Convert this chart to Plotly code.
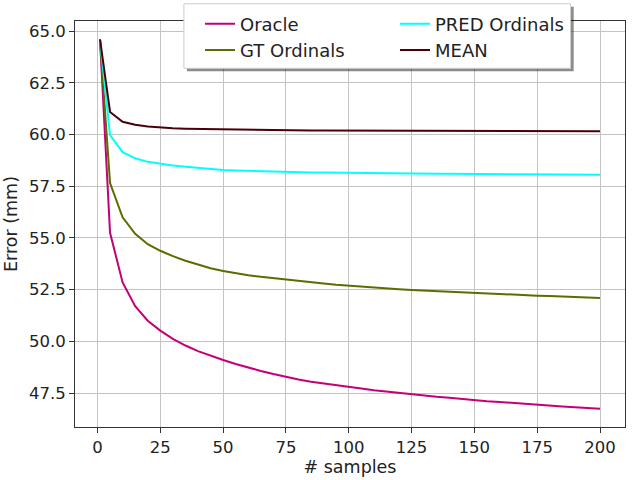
import plotly.graph_objects as go

samples = [1, 5, 10, 15, 20, 25, 30, 35, 40, 45, 50, 55, 60, 65, 70, 75, 80, 85, 90, 95, 100,
           105, 110, 115, 120, 125, 130, 135, 140, 145, 150, 155, 160, 165, 170, 175, 180, 185, 190, 195, 200]

oracle = [64.6, 55.25, 52.85, 51.7, 51.0, 50.52, 50.12, 49.8, 49.53, 49.3, 49.1, 48.91, 48.73, 48.57,
          48.42, 48.28, 48.16, 48.05, 47.96, 47.87, 47.79, 47.72, 47.64, 47.57, 47.5, 47.44, 47.38,
          47.32, 47.27, 47.21, 47.16, 47.11, 47.07, 47.02, 46.97, 46.93, 46.89, 46.85, 46.81, 46.77, 46.74]

gt_ordinals = [64.6, 57.65, 56.0, 55.2, 54.7, 54.38, 54.12, 53.9, 53.72, 53.54, 53.4, 53.29, 53.2,
               53.12, 53.05, 52.98, 52.92, 52.86, 52.8, 52.74, 52.69, 52.65, 52.6, 52.56, 52.52, 52.48,
               52.45, 52.42, 52.39, 52.37, 52.34, 52.31, 52.29, 52.26, 52.24, 52.21, 52.19, 52.16, 52.14,
               52.12, 52.1]

pred_ordinals = [64.6, 59.97, 59.15, 58.85, 58.68, 58.58, 58.5, 58.44, 58.38, 58.33, 58.28, 58.26,
                 58.24, 58.22, 58.2, 58.19, 58.18, 58.17, 58.16, 58.15, 58.14, 58.13, 58.13, 58.12,
                 58.12, 58.11, 58.11, 58.1, 58.1, 58.09, 58.09, 58.09, 58.08, 58.08, 58.08, 58.08,
                 58.07, 58.07, 58.07, 58.06, 58.06]

mean = [64.6, 61.09, 60.62, 60.47, 60.39, 60.33, 60.3, 60.28, 60.27, 60.25, 60.23, 60.22, 60.21,
        60.21, 60.2, 60.2, 60.2, 60.19, 60.19, 60.19, 60.19, 60.19, 60.19, 60.18, 60.18, 60.18,
        60.18, 60.18, 60.18, 60.18, 60.18, 60.18, 60.17, 60.17, 60.17, 60.17, 60.17, 60.17, 60.16,
        60.16, 60.16]

x_ticks = [0, 25, 50, 75, 100, 125, 150, 175, 200]
y_ticks = [47.5, 50.0, 52.5, 55.0, 57.5, 60.0, 62.5, 65.0]

font = "DejaVu Sans"
fig = go.Figure()
fig.add_trace(go.Scatter(x=samples, y=oracle, mode="lines", name="Oracle",
                         line=dict(color="#c20078", width=2), legend="legend"))
fig.add_trace(go.Scatter(x=samples, y=gt_ordinals, mode="lines", name="GT Ordinals",
                         line=dict(color="#5a6e00", width=2), legend="legend"))
fig.add_trace(go.Scatter(x=samples, y=pred_ordinals, mode="lines", name="PRED Ordinals",
                         line=dict(color="#00ffff", width=2), legend="legend2"))
fig.add_trace(go.Scatter(x=samples, y=mean, mode="lines", name="MEAN",
                         line=dict(color="#4a0008", width=2), legend="legend2"))

axis_common = dict(showgrid=True, gridcolor="#c4c4c4", gridwidth=1, showline=True, mirror=True,
                   linecolor="#333333", linewidth=1, ticks="outside", ticklen=5, tickcolor="#333333",
                   zeroline=False, automargin=False,
                   tickfont=dict(family=font, size=16.5, color="#222222"))

fig.update_layout(
    width=640, height=480,
    margin=dict(l=75, r=15, t=21, b=53, autoexpand=False),
    paper_bgcolor="white", plot_bgcolor="white",
    font=dict(family=font, size=16.5, color="#222222"),
    xaxis=dict(range=[-8.95, 209.95], tickvals=x_ticks, ticktext=[str(v) for v in x_ticks],
               title=dict(text="# samples", font=dict(size=17.5), standoff=4), **axis_common),
    yaxis=dict(range=[45.86, 65.49], tickvals=y_ticks, ticktext=[f"{v:.1f}" for v in y_ticks],
               title=dict(text="Error (mm)", font=dict(size=17.5), standoff=6), **axis_common),
    legend=dict(x=0.2273, y=0.9885, xref="paper", yref="container", xanchor="left", yanchor="top",
                bgcolor="rgba(0,0,0,0)", borderwidth=0,
                font=dict(family=font, size=18, color="#222222"), tracegroupgap=0),
    legend2=dict(x=0.5818, y=0.9885, xref="paper", yref="container", xanchor="left", yanchor="top",
                 bgcolor="rgba(0,0,0,0)", borderwidth=0,
                 font=dict(family=font, size=18, color="#222222"), tracegroupgap=0),
    shapes=[
        dict(type="rect", xref="paper", yref="paper", x0=0.2036, x1=0.9067, y0=0.8760, y1=1.0350,
             fillcolor="rgba(0,0,0,0.45)", line=dict(width=0), layer="above"),
        dict(type="rect", xref="paper", yref="paper", x0=0.198, x1=0.901, y0=0.8835, y1=1.0424,
             fillcolor="white", line=dict(color="#cccccc", width=1), layer="above"),
    ],
)

fig.write_html("out.html")
